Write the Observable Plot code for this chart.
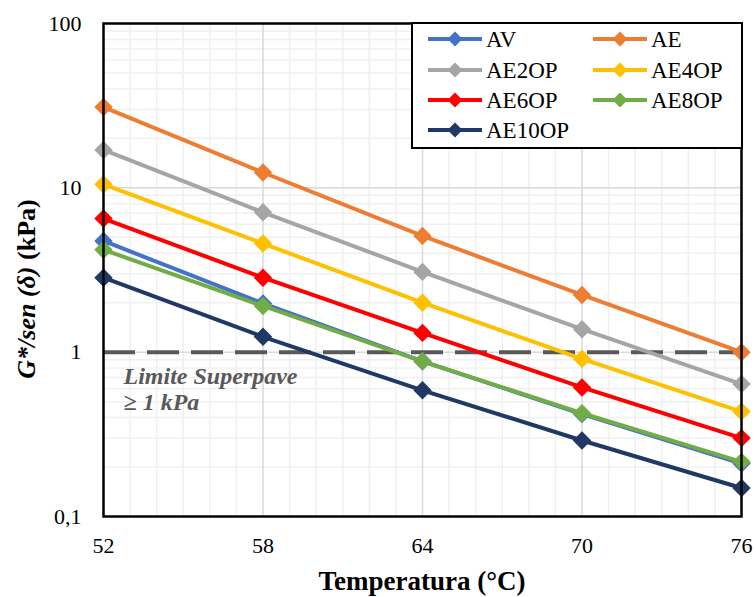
<!DOCTYPE html>
<html><head><meta charset="utf-8">
<script src="https://cdn.jsdelivr.net/npm/d3@7"></script>
<script src="https://cdn.jsdelivr.net/npm/@observablehq/plot@0.6"></script>
<style>
body{margin:0;background:#fff}
#chart{position:relative;width:756px;height:597px}
</style>
</head><body><div id="chart"></div>
<script>
// ---- data ----
const temps = [52, 58, 64, 70, 76];
const seriesNames = ["AV", "AE", "AE2OP", "AE4OP", "AE6OP", "AE8OP", "AE10OP"];
const seriesColors = ["#4472C4", "#ED7D31", "#A5A5A5", "#FFC000", "#FF0000", "#70AD47", "#203864"];
const AV     = [4.75, 1.98, 0.88, 0.42, 0.21];
const AE     = [31.0, 12.4, 5.1, 2.23, 1.0];
const AE2OP  = [17.0, 7.1, 3.08, 1.38, 0.64];
const AE4OP  = [10.5, 4.58, 2.0, 0.91, 0.435];
const AE6OP  = [6.5, 2.84, 1.31, 0.61, 0.30];
const AE8OP  = [4.2, 1.91, 0.88, 0.425, 0.215];
const AE10OP = [2.84, 1.24, 0.586, 0.29, 0.149];
const seriesValues = [AV, AE, AE2OP, AE4OP, AE6OP, AE8OP, AE10OP];

const yTicks = [0.1, 1, 10, 100];
const yTickLabels = ["0,1", "1", "10", "100"];
const yMinorGrid = [0.2,0.3,0.4,0.5,0.6,0.7,0.8,0.9,2,3,4,5,6,7,8,9,20,30,40,50,60,70,80,90];
const yMajorGrid = [1, 10];
const xMajorGrid = [58, 64, 70];
const xMinorGrid = [53,54,55,56,57,59,60,61,62,63,65,66,67,68,69,71,72,73,74,75];
const limitValue = 1;
const limitLabel = ["Limite Superpave", "≥ 1 kPa"];
const xTitle = "Temperatura (°C)";

// ---- table ----
const rows = seriesNames.map((name, i) =>
  temps.map((t, j) => ({series: name, temp: t, value: seriesValues[i][j]})));

const seriesMarks = rows.flatMap((r, i) => [
  Plot.line(r, {x: "temp", y: "value", stroke: seriesColors[i], strokeWidth: 4}),
  Plot.dot(r, {x: "temp", y: "value", fill: seriesColors[i], symbol: "diamond2", r: 8.3, stroke: "none"})
]);

const chart = Plot.plot({
  width: 756, height: 597,
  marginLeft: 103, marginRight: 15, marginTop: 23, marginBottom: 81,
  style: {fontFamily: "'Liberation Serif', 'Times New Roman', serif", fontSize: "22px", color: "#000", background: "#fff", overflow: "visible"},
  x: {domain: [52, 76]},
  y: {type: "log", domain: [0.1, 100]},
  marks: [
    Plot.ruleX(xMinorGrid, {stroke: "#f0f0f0", strokeWidth: 1.5}),
    Plot.ruleY(yMinorGrid, {stroke: "#f0f0f0", strokeWidth: 1.5}),
    Plot.ruleX(xMajorGrid, {stroke: "#d9d9d9", strokeWidth: 1.5}),
    Plot.ruleY(yMajorGrid, {stroke: "#d9d9d9", strokeWidth: 1.5}),
    Plot.ruleY([limitValue], {stroke: "#595959", strokeWidth: 4, strokeDasharray: "32,12"}),
    ...seriesMarks,
    Plot.frame({stroke: "#000", strokeWidth: 2.5}),
    Plot.axisX(temps, {tickSize: 0, tickPadding: 21, label: null, tickFormat: d => String(d)}),
    Plot.axisY(yTicks, {tickSize: 0, tickPadding: 22, label: null, tickFormat: d => yTickLabels[yTicks.indexOf(d)]}),
    Plot.text([limitLabel.join("\n")], {
      x: 52, y: limitValue, dx: 20, dy: 13, textAnchor: "start", lineAnchor: "top",
      fill: "#595959", fontWeight: "bold", fontStyle: "italic", fontSize: 24, lineHeight: 1.1
    })
  ]
});
document.getElementById("chart").appendChild(chart);

const svg = d3.select(chart);
// x-axis title
svg.append("text")
  .attr("x", 422).attr("y", 590)
  .attr("text-anchor", "middle")
  .attr("font-family", "'Liberation Serif', serif")
  .attr("font-size", 27).attr("font-weight", "bold")
  .text(xTitle);
// y-axis title
const yt = svg.append("text")
  .attr("transform", "translate(35,289) rotate(-90)")
  .attr("text-anchor", "middle")
  .attr("font-family", "'Liberation Serif', serif")
  .attr("font-size", 26).attr("font-weight", "bold");
yt.append("tspan").attr("font-style", "italic").text("G*/sen (δ)");
yt.append("tspan").text(" (kPa)");

// legend
const lg = svg.append("g");
lg.append("rect").attr("x", 412).attr("y", 23).attr("width", 330).attr("height", 125)
  .attr("fill", "#fff").attr("stroke", "#000").attr("stroke-width", 2);
const legendRows = [39, 70, 100, 130];
const legendCols = [428, 593];
seriesNames.forEach((name, i) => {
  const cx = legendCols[i % 2], cy = legendRows[Math.floor(i / 2)];
  lg.append("line").attr("x1", cx).attr("x2", cx + 54).attr("y1", cy).attr("y2", cy)
    .attr("stroke", seriesColors[i]).attr("stroke-width", 4);
  const m = cx + 27, s = 7.5;
  lg.append("path").attr("d", `M${m},${cy - s}L${m + s},${cy}L${m},${cy + s}L${m - s},${cy}Z`)
    .attr("fill", seriesColors[i]);
  lg.append("text").attr("x", cx + 58).attr("y", cy + 8)
    .attr("text-anchor", "start")
    .attr("font-family", "'Liberation Serif', serif").attr("font-size", 23)
    .text(name);
});
</script>
</body></html>
